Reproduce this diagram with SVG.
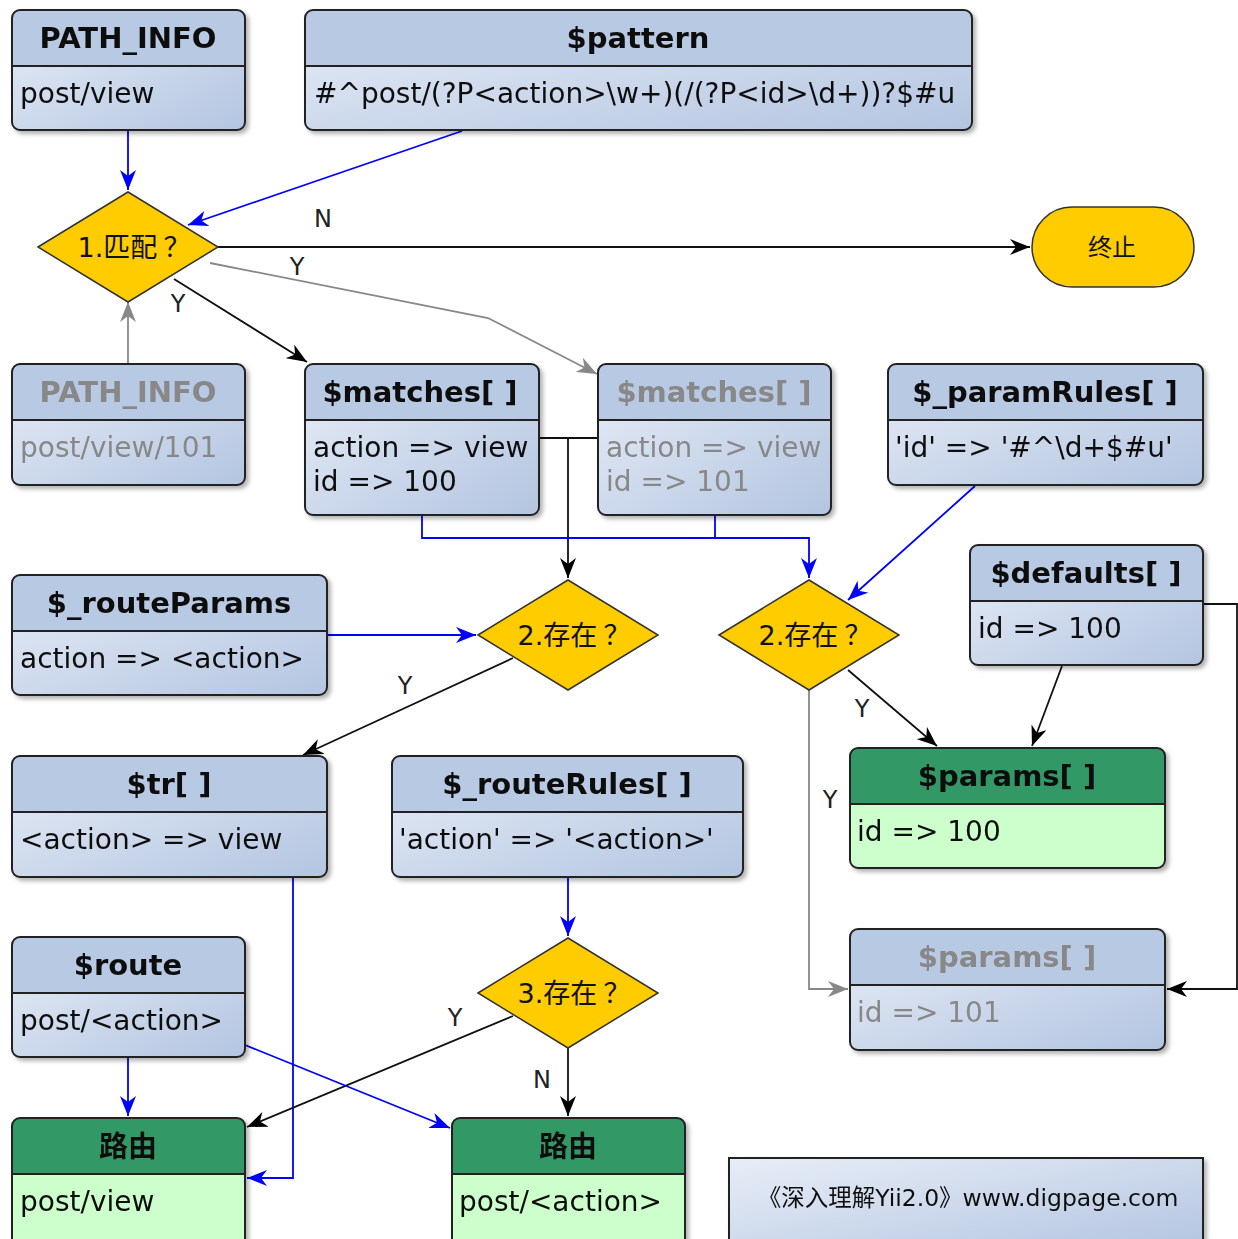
<svg xmlns="http://www.w3.org/2000/svg" width="1238" height="1239" viewBox="0 0 1238 1239">
<defs>
<linearGradient id="bodyGrad" x1="0" y1="0" x2="1" y2="1">
<stop offset="0" stop-color="#E8EEF7"/>
<stop offset="1" stop-color="#B3C5E1"/>
</linearGradient>
<filter id="sh" x="-5%" y="-5%" width="115%" height="120%">
<feDropShadow dx="3" dy="3" stdDeviation="2" flood-color="#000" flood-opacity="0.3"/>
</filter>
<marker id="aBlue" viewBox="0 0 20 16" markerWidth="20" markerHeight="16" refX="20" refY="8" orient="auto" markerUnits="userSpaceOnUse">
<path d="M0,0 L20,8 L0,16 L6,8 Z" fill="#0000FF"/>
</marker>
<marker id="aBlack" viewBox="0 0 20 16" markerWidth="20" markerHeight="16" refX="20" refY="8" orient="auto" markerUnits="userSpaceOnUse">
<path d="M0,0 L20,8 L0,16 L6,8 Z" fill="#000"/>
</marker>
<marker id="aGray" viewBox="0 0 20 16" markerWidth="20" markerHeight="16" refX="20" refY="8" orient="auto" markerUnits="userSpaceOnUse">
<path d="M0,0 L20,8 L0,16 L6,8 Z" fill="#888"/>
</marker>
</defs>
<style>
text { font-family: "DejaVu Sans", "Noto Sans CJK SC", sans-serif; fill: #111; }
.hd { font-size: 29px; font-weight: bold; text-anchor: middle; }
.bd { font-size: 28px; }
.dim { fill: #888; }
.body { fill: url(#bodyGrad); }
.hdr { fill: #B8C9E3; }
.ghdr { fill: #339966; }
.gbody { fill: #CCFFCC; }
.outline { fill: none; stroke: #222; stroke-width: 2; }
.div { stroke: #222; stroke-width: 2; }
.dia { fill: #FFCC00; stroke: #333; stroke-width: 1.5; }
.dt { font-size: 27px; text-anchor: middle; }
.q { font-family: "Noto Sans CJK SC", sans-serif; }
.lbl { font-size: 24px; text-anchor: middle; fill: #222; }
.cb { fill: none; stroke: #0000FF; stroke-width: 1.8; }
.ck { fill: none; stroke: #111; stroke-width: 1.8; }
.cg { fill: none; stroke: #888; stroke-width: 1.8; }
</style>

<g id="connectors">
<path class="cb" d="M128,130 V190" marker-end="url(#aBlue)"/>
<path class="cb" d="M462,131 L188,225" marker-end="url(#aBlue)"/>
<path class="ck" d="M218,247 H1030" marker-end="url(#aBlack)"/>
<path class="ck" d="M174,279 L307,362" marker-end="url(#aBlack)"/>
<path class="cg" d="M210,263 L488,318 L597,374" marker-end="url(#aGray)"/>
<path class="cg" d="M128,364 V302" marker-end="url(#aGray)"/>
<path class="ck" d="M539,438 H598"/>
<path class="ck" d="M568,438 V578" marker-end="url(#aBlack)"/>
<path class="cb" d="M422,515 V538 H809 V578" marker-end="url(#aBlue)"/>
<path class="cb" d="M715,515 V538"/>
<path class="cb" d="M975,486 L848,600" marker-end="url(#aBlue)"/>
<path class="cb" d="M327,635 H476" marker-end="url(#aBlue)"/>
<path class="ck" d="M513,658 L303,755" marker-end="url(#aBlack)"/>
<path class="ck" d="M848,670 L937,746" marker-end="url(#aBlack)"/>
<path class="ck" d="M1062,666 L1032,746" marker-end="url(#aBlack)"/>
<path class="ck" d="M1203,604 H1237 V989 H1167" marker-end="url(#aBlack)"/>
<path class="cg" d="M809,690 V989 H848" marker-end="url(#aGray)"/>
<path class="cb" d="M293,877 V1178 H247" marker-end="url(#aBlue)"/>
<path class="cb" d="M568,877 V936" marker-end="url(#aBlue)"/>
<path class="ck" d="M513,1016 L247,1127" marker-end="url(#aBlack)"/>
<path class="ck" d="M568,1048 V1116" marker-end="url(#aBlack)"/>
<path class="cb" d="M128,1057 V1116" marker-end="url(#aBlue)"/>
<path class="cb" d="M245,1045 L450,1128" marker-end="url(#aBlue)"/>
<text class="lbl" x="323" y="227">N</text>
<text class="lbl" x="297" y="275">Y</text>
<text class="lbl" x="178" y="312">Y</text>
<text class="lbl" x="405" y="694">Y</text>
<text class="lbl" x="862" y="717">Y</text>
<text class="lbl" x="830" y="808">Y</text>
<text class="lbl" x="455" y="1026">Y</text>
<text class="lbl" x="542" y="1088">N</text>
</g>

<g id="path_info_1" filter="url(#sh)">
<rect class="body" x="12" y="10" width="233" height="120" rx="8"/>
<path class="hdr" d="M12,66 V18 Q12,10 20,10 H237 Q245,10 245,18 V66 Z"/>
<line class="div" x1="12" y1="66" x2="245" y2="66"/>
<rect class="outline" x="12" y="10" width="233" height="120" rx="8"/>
<text class="hd" x="128" y="48">PATH_INFO</text>
<text class="bd" x="20" y="103">post/view</text>
</g>

<g id="pattern" filter="url(#sh)">
<rect class="body" x="305" y="10" width="667" height="120" rx="8"/>
<path class="hdr" d="M305,66 V18 Q305,10 313,10 H964 Q972,10 972,18 V66 Z"/>
<line class="div" x1="305" y1="66" x2="972" y2="66"/>
<rect class="outline" x="305" y="10" width="667" height="120" rx="8"/>
<text class="hd" x="638" y="48">$pattern</text>
<text class="bd" x="314" y="103">#^post/(?P&lt;action&gt;\w+)(/(?P&lt;id&gt;\d+))?$#u</text>
</g>

<g id="match1">
<polygon class="dia" points="38,247 128,192 218,247 128,302"/>
<text class="dt" x="134" y="257">1.匹配<tspan class="q" dx="6">？</tspan></text>
</g>

<g id="stop">
<rect x="1032" y="207" width="162" height="80" rx="40" fill="#FFCC00" stroke="#333" stroke-width="1.5"/>
<text x="1112" y="256" font-size="24" text-anchor="middle">终止</text>
</g>

<g id="path_info_2" filter="url(#sh)">
<rect class="body" x="12" y="364" width="233" height="121" rx="8"/>
<path class="hdr" d="M12,420 V372 Q12,364 20,364 H237 Q245,364 245,372 V420 Z"/>
<line class="div" x1="12" y1="420" x2="245" y2="420"/>
<rect class="outline" x="12" y="364" width="233" height="121" rx="8"/>
<text class="hd dim" x="128" y="402">PATH_INFO</text>
<text class="bd dim" x="20" y="457">post/view/101</text>
</g>

<g id="matches_1" filter="url(#sh)">
<rect class="body" x="305" y="364" width="234" height="151" rx="8"/>
<path class="hdr" d="M305,420 V372 Q305,364 313,364 H531 Q539,364 539,372 V420 Z"/>
<line class="div" x1="305" y1="420" x2="539" y2="420"/>
<rect class="outline" x="305" y="364" width="234" height="151" rx="8"/>
<text class="hd" x="420" y="402">$matches[  ]</text>
<text class="bd" x="313" y="457">action =&gt; view</text>
<text class="bd" x="313" y="491">id =&gt; 100</text>
</g>

<g id="matches_2" filter="url(#sh)">
<rect class="body" x="598" y="364" width="233" height="151" rx="8"/>
<path class="hdr" d="M598,420 V372 Q598,364 606,364 H823 Q831,364 831,372 V420 Z"/>
<line class="div" x1="598" y1="420" x2="831" y2="420"/>
<rect class="outline" x="598" y="364" width="233" height="151" rx="8"/>
<text class="hd dim" x="714" y="402">$matches[  ]</text>
<text class="bd dim" x="606" y="457">action =&gt; view</text>
<text class="bd dim" x="606" y="491">id =&gt; 101</text>
</g>

<g id="param_rules" filter="url(#sh)">
<rect class="body" x="888" y="364" width="315" height="121" rx="8"/>
<path class="hdr" d="M888,420 V372 Q888,364 896,364 H1195 Q1203,364 1203,372 V420 Z"/>
<line class="div" x1="888" y1="420" x2="1203" y2="420"/>
<rect class="outline" x="888" y="364" width="315" height="121" rx="8"/>
<text class="hd" x="1045" y="402">$_paramRules[  ]</text>
<text class="bd" x="895" y="457">'id' =&gt; '#^\d+$#u'</text>
</g>

<g id="defaults" filter="url(#sh)">
<rect class="body" x="970" y="545" width="233" height="120" rx="8"/>
<path class="hdr" d="M970,601 V553 Q970,545 978,545 H1195 Q1203,545 1203,553 V601 Z"/>
<line class="div" x1="970" y1="601" x2="1203" y2="601"/>
<rect class="outline" x="970" y="545" width="233" height="120" rx="8"/>
<text class="hd" x="1086" y="583">$defaults[ ]</text>
<text class="bd" x="978" y="638">id =&gt; 100</text>
</g>

<g id="route_params" filter="url(#sh)">
<rect class="body" x="12" y="575" width="315" height="120" rx="8"/>
<path class="hdr" d="M12,631 V583 Q12,575 20,575 H319 Q327,575 327,583 V631 Z"/>
<line class="div" x1="12" y1="631" x2="327" y2="631"/>
<rect class="outline" x="12" y="575" width="315" height="120" rx="8"/>
<text class="hd" x="169" y="613">$_routeParams</text>
<text class="bd" x="20" y="668">action =&gt; &lt;action&gt;</text>
</g>

<g id="exists2a">
<polygon class="dia" points="478,635 568,580 658,635 568,690"/>
<text class="dt" x="574" y="645">2.存在<tspan class="q" dx="6">？</tspan></text>
</g>

<g id="exists2b">
<polygon class="dia" points="719,635 809,580 899,635 809,690"/>
<text class="dt" x="815" y="645">2.存在<tspan class="q" dx="6">？</tspan></text>
</g>

<g id="str" filter="url(#sh)">
<rect class="body" x="12" y="756" width="315" height="121" rx="8"/>
<path class="hdr" d="M12,812 V764 Q12,756 20,756 H319 Q327,756 327,764 V812 Z"/>
<line class="div" x1="12" y1="812" x2="327" y2="812"/>
<rect class="outline" x="12" y="756" width="315" height="121" rx="8"/>
<text class="hd" x="169" y="794">$tr[  ]</text>
<text class="bd" x="20" y="849">&lt;action&gt; =&gt; view</text>
</g>

<g id="route_rules" filter="url(#sh)">
<rect class="body" x="392" y="756" width="351" height="121" rx="8"/>
<path class="hdr" d="M392,812 V764 Q392,756 400,756 H735 Q743,756 743,764 V812 Z"/>
<line class="div" x1="392" y1="812" x2="743" y2="812"/>
<rect class="outline" x="392" y="756" width="351" height="121" rx="8"/>
<text class="hd" x="567" y="794">$_routeRules[  ]</text>
<text class="bd" x="399" y="849">'action' =&gt; '&lt;action&gt;'</text>
</g>

<g id="params_1" filter="url(#sh)">
<rect class="gbody" x="850" y="748" width="315" height="120" rx="8"/>
<path class="ghdr" d="M850,804 V756 Q850,748 858,748 H1157 Q1165,748 1165,756 V804 Z"/>
<line class="div" x1="850" y1="804" x2="1165" y2="804"/>
<rect class="outline" x="850" y="748" width="315" height="120" rx="8"/>
<text class="hd" x="1007" y="786">$params[  ]</text>
<text class="bd" x="857" y="841">id =&gt; 100</text>
</g>

<g id="params_2" filter="url(#sh)">
<rect class="body" x="850" y="929" width="315" height="121" rx="8"/>
<path class="hdr" d="M850,985 V937 Q850,929 858,929 H1157 Q1165,929 1165,937 V985 Z"/>
<line class="div" x1="850" y1="985" x2="1165" y2="985"/>
<rect class="outline" x="850" y="929" width="315" height="121" rx="8"/>
<text class="hd dim" x="1007" y="967">$params[  ]</text>
<text class="bd dim" x="857" y="1022">id =&gt; 101</text>
</g>

<g id="route" filter="url(#sh)">
<rect class="body" x="12" y="937" width="233" height="120" rx="8"/>
<path class="hdr" d="M12,993 V945 Q12,937 20,937 H237 Q245,937 245,945 V993 Z"/>
<line class="div" x1="12" y1="993" x2="245" y2="993"/>
<rect class="outline" x="12" y="937" width="233" height="120" rx="8"/>
<text class="hd" x="128" y="975">$route</text>
<text class="bd" x="20" y="1030">post/&lt;action&gt;</text>
</g>

<g id="exists3">
<polygon class="dia" points="478,993 568,938 658,993 568,1048"/>
<text class="dt" x="574" y="1003">3.存在<tspan class="q" dx="6">？</tspan></text>
</g>

<g id="result_1" filter="url(#sh)">
<rect class="gbody" x="12" y="1118" width="233" height="130" rx="8"/>
<path class="ghdr" d="M12,1174 V1126 Q12,1118 20,1118 H237 Q245,1118 245,1126 V1174 Z"/>
<line class="div" x1="12" y1="1174" x2="245" y2="1174"/>
<rect class="outline" x="12" y="1118" width="233" height="130" rx="8"/>
<text class="hd" x="128" y="1157">路由</text>
<text class="bd" x="20" y="1211">post/view</text>
</g>

<g id="result_2" filter="url(#sh)">
<rect class="gbody" x="452" y="1118" width="233" height="130" rx="8"/>
<path class="ghdr" d="M452,1174 V1126 Q452,1118 460,1118 H677 Q685,1118 685,1126 V1174 Z"/>
<line class="div" x1="452" y1="1174" x2="685" y2="1174"/>
<rect class="outline" x="452" y="1118" width="233" height="130" rx="8"/>
<text class="hd" x="568" y="1157">路由</text>
<text class="bd" x="459" y="1211">post/&lt;action&gt;</text>
</g>

<g id="footer" filter="url(#sh)">
<rect class="body" x="729" y="1158" width="474" height="90" stroke="#222" stroke-width="2"/>
<text x="968" y="1206" font-size="23.5" text-anchor="middle" fill="#222">《深入理解Yii2.0》www.digpage.com</text>
</g>
</svg>
